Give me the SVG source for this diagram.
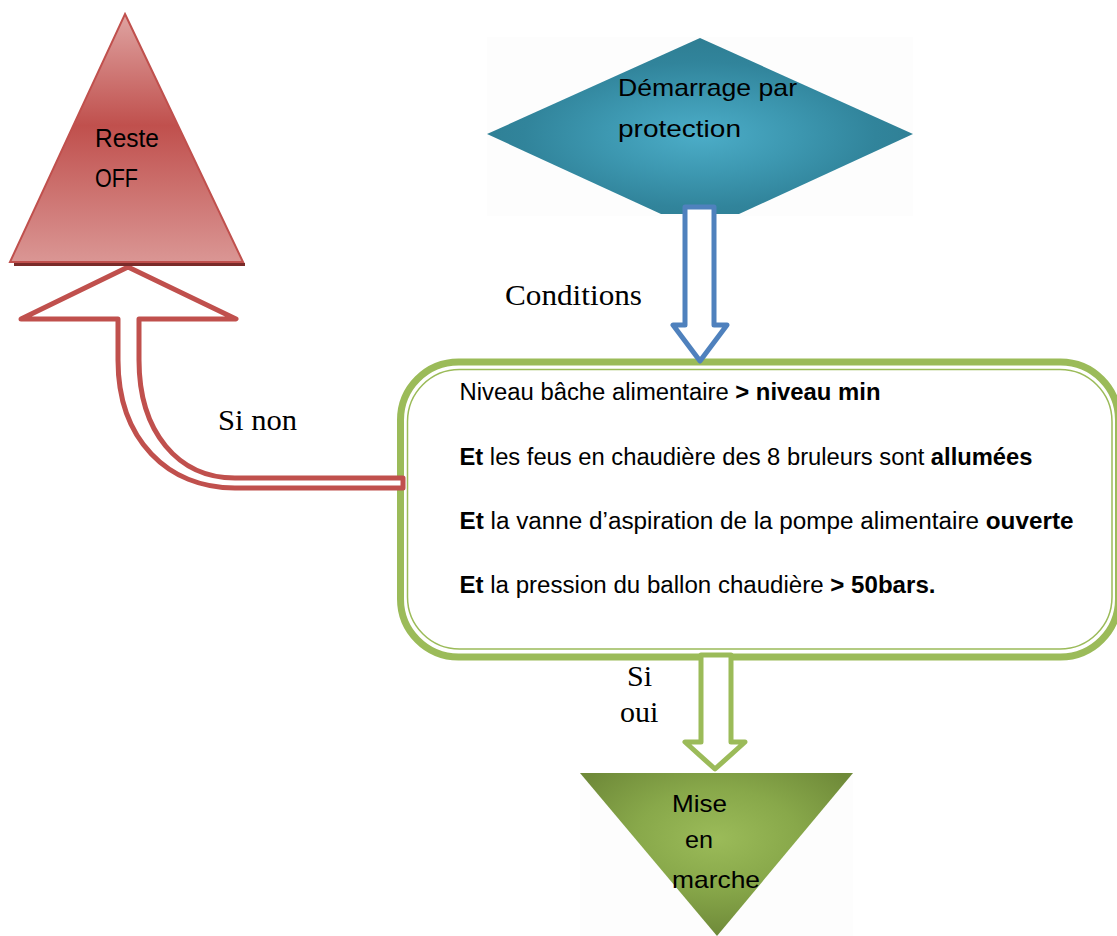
<svg xmlns="http://www.w3.org/2000/svg" width="1117" height="936" viewBox="0 0 1117 936">
<style>
.sans{font-family:"Liberation Sans",Arial,sans-serif;fill:#000}
.serif{font-family:"Liberation Serif","Times New Roman",serif;font-size:30px;fill:#000}
.box{font-size:23px}
.b{font-weight:bold}
.arrow{fill:#fff;stroke-width:5;stroke-linejoin:round}
.bg{fill:#fdfdfd}
</style>
<defs>
<linearGradient id="gRed" x1="0" y1="0" x2="0" y2="1">
<stop offset="0" stop-color="#dfa4a2"/>
<stop offset="0.45" stop-color="#c0504d"/>
<stop offset="1" stop-color="#da9694"/>
</linearGradient>
<radialGradient id="gTeal" cx="0.5" cy="0.55" r="0.55">
<stop offset="0" stop-color="#4cadc8"/>
<stop offset="0.4" stop-color="#3d98b1"/>
<stop offset="0.75" stop-color="#31849b"/>
<stop offset="1" stop-color="#2e7e93"/>
</radialGradient>
<radialGradient id="gGreen" cx="0.5" cy="0.4" r="0.6">
<stop offset="0" stop-color="#9bbb59"/>
<stop offset="0.5" stop-color="#88a84a"/>
<stop offset="1" stop-color="#6f8a39"/>
</radialGradient>
</defs>

<g id="node-demarrage">
<rect class="bg" x="487" y="37" width="426" height="179"/>
<polygon points="487,134 700,38 913,134 739,214 661,214" fill="url(#gTeal)"/>
<text class="sans" font-size="24" x="618" y="96" textLength="179" lengthAdjust="spacingAndGlyphs">Démarrage par</text>
<text class="sans" font-size="24" x="618" y="137" textLength="123" lengthAdjust="spacingAndGlyphs">protection</text>
</g>

<g id="node-conditions">
<rect x="400.5" y="362" width="718" height="295" rx="58" fill="#fff" stroke="#9bbb59" stroke-width="7"/>
<rect x="407.5" y="369.5" width="704.5" height="279.5" rx="52" fill="#fff" stroke="#9bbb59" stroke-width="1.5"/>
<text class="sans box" x="459.5" y="400" textLength="421" lengthAdjust="spacingAndGlyphs">Niveau bâche alimentaire <tspan class="b">&gt; niveau min</tspan></text>
<text class="sans box" x="459.5" y="465" textLength="573" lengthAdjust="spacingAndGlyphs"><tspan class="b">Et</tspan> les feus en chaudière des 8 bruleurs sont <tspan class="b">allumées</tspan></text>
<text class="sans box" x="459.5" y="529" textLength="614" lengthAdjust="spacingAndGlyphs"><tspan class="b">Et</tspan> la vanne d’aspiration de la pompe alimentaire <tspan class="b">ouverte</tspan></text>
<text class="sans box" x="459.5" y="593" textLength="476" lengthAdjust="spacingAndGlyphs"><tspan class="b">Et</tspan> la pression du ballon chaudière  <tspan class="b">&gt; 50bars.</tspan></text>
</g>

<g id="connectors">
<path class="arrow" stroke="#4f81bd" d="M685,207 L714,207 L714,325 L727,325 L700,361 L673,325 L685,325 Z"/>
<path class="arrow" stroke="#c0504d" d="M403,488 L235,488 C168,488 118,440 118,360 L118,319 L21,319 L128,267 L236,319 L139,319 L139,360 C139,432 178,478 235,478 L403,478 Z"/>
<path class="arrow" stroke="#9bbb59" d="M701,655 L731,655 L731,742 L745,742 L715,769 L685,742 L701,742 Z"/>
</g>

<g id="node-reste">
<line x1="14" y1="264.5" x2="245" y2="264.5" stroke="#7a2b29" stroke-width="3"/>
<polygon points="125,14 243,262 10,262" fill="url(#gRed)" stroke="#c0504d" stroke-width="2"/>
<text class="sans" font-size="25" x="95" y="147" textLength="64" lengthAdjust="spacingAndGlyphs">Reste</text>
<text class="sans" font-size="25" x="95" y="187" textLength="43" lengthAdjust="spacingAndGlyphs">OFF</text>
</g>

<g id="node-mise">
<rect class="bg" x="580" y="773" width="273" height="163"/>
<polygon points="580,773 853,773 717,936" fill="url(#gGreen)"/>
<text class="sans" font-size="24" x="672" y="812" textLength="55" lengthAdjust="spacingAndGlyphs">Mise</text>
<text class="sans" font-size="24" x="685" y="848" textLength="28" lengthAdjust="spacingAndGlyphs">en</text>
<text class="sans" font-size="24" x="672" y="888" textLength="88" lengthAdjust="spacingAndGlyphs">marche</text>
</g>

<g id="labels">
<text class="serif" x="505" y="305" textLength="137" lengthAdjust="spacingAndGlyphs">Conditions</text>
<text class="serif" x="218" y="430" textLength="79" lengthAdjust="spacingAndGlyphs">Si non</text>
<text class="serif" x="627" y="686">Si</text>
<text class="serif" x="620" y="722">oui</text>
</g>
</svg>
